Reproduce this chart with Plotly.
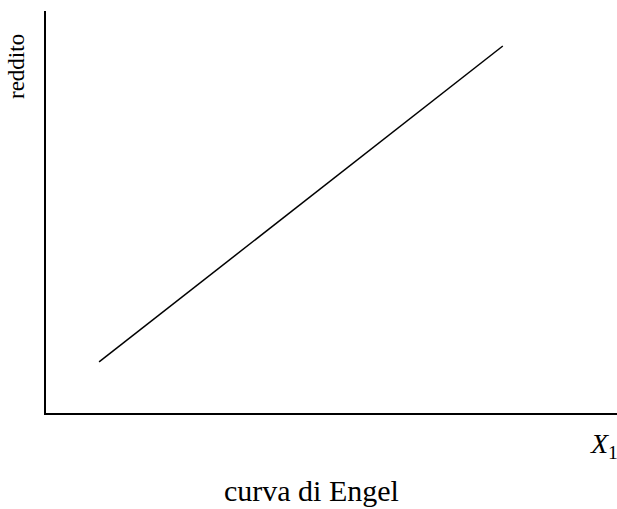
import plotly.graph_objects as go

# Engel curve: quantity of good 1 against income (arbitrary units)
quantity_x1 = [9.3, 80.0]
income = [12.7, 91.3]

axis_title_x = "<i>X</i><sub>1</sub>"
axis_title_y = "reddito"
caption = "curva di Engel"

W, H = 617, 509
L, R, T, B = 46, 0, 11, 96
plot_w = W - L - R
plot_h = H - T - B


def px_to_paper(px, py):
    return (px - L) / plot_w, (H - B - py) / plot_h


fig = go.Figure()
fig.add_trace(go.Scatter(
    x=quantity_x1, y=income, mode="lines",
    line=dict(color="black", width=1.5),
    hoverinfo="skip", showlegend=False,
))

axis_common = dict(
    showgrid=False, zeroline=False, showticklabels=False, ticks="",
    showline=True, linecolor="black", linewidth=2,
    range=[0, 100], fixedrange=True,
)
fig.update_xaxes(**axis_common)
fig.update_yaxes(**axis_common)

serif = "Liberation Serif"
labels = [
    (axis_title_y, 16, 67, 23, -90),
    (caption, 311, 490, 30, 0),
    (axis_title_x, 604, 446, 28, 0),
]
for text, px, py, size, angle in labels:
    xp, yp = px_to_paper(px, py)
    fig.add_annotation(text=text, x=xp, y=yp, xref="paper", yref="paper",
                       xanchor="center", yanchor="middle", textangle=angle,
                       showarrow=False,
                       font=dict(family=serif, size=size, color="black"))

fig.update_layout(
    width=W, height=H,
    margin=dict(l=L, r=R, t=T, b=B, autoexpand=False),
    paper_bgcolor="white", plot_bgcolor="white",
)

fig.write_html("out.html")
